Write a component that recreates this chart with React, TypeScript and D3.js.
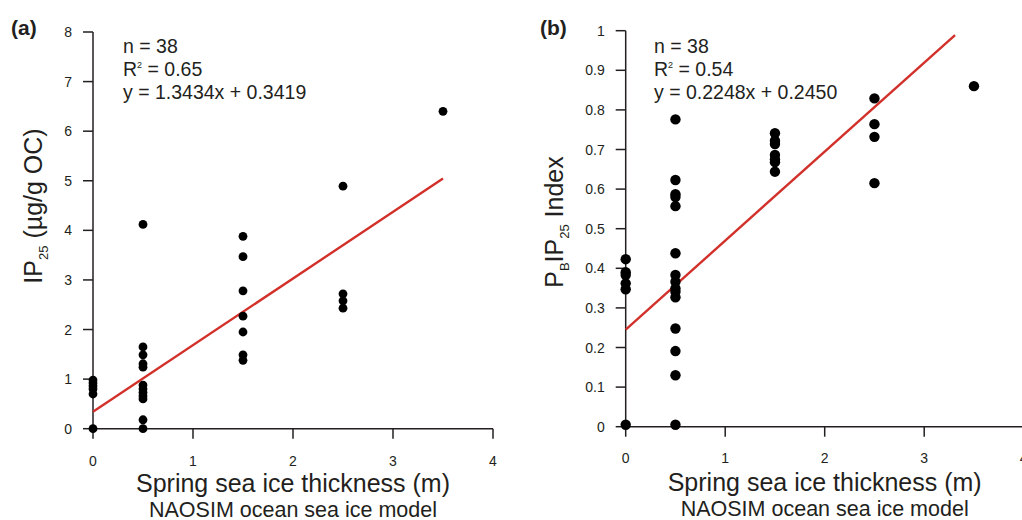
import React from "react";
import * as d3 from "d3";

// ---- Data ----
const xTicks = [0, 1, 2, 3, 4];
const yTicksA = [0, 1, 2, 3, 4, 5, 6, 7, 8];
const yTicksB = [0, 0.1, 0.2, 0.3, 0.4, 0.5, 0.6, 0.7, 0.8, 0.9, 1];

const thicknessA = [
  0, 0, 0, 0, 0, 0,
  0.5, 0.5, 0.5, 0.5, 0.5, 0.5, 0.5, 0.5, 0.5, 0.5, 0.5, 0.5,
  1.5, 1.5, 1.5, 1.5, 1.5, 1.5, 1.5,
  2.5, 2.5, 2.5, 2.5,
  3.5,
];
const ip25 = [
  0.98, 0.92, 0.86, 0.8, 0.7, 0,
  4.12, 1.65, 1.49, 1.31, 1.24, 0.88, 0.8, 0.73, 0.66, 0.6, 0.18, 0,
  3.88, 3.47, 2.78, 2.27, 1.95, 1.49, 1.38,
  4.89, 2.72, 2.58, 2.43,
  6.4,
];

const thicknessB = [
  0, 0, 0, 0, 0, 0,
  0.5, 0.5, 0.5, 0.5, 0.5, 0.5, 0.5, 0.5, 0.5, 0.5, 0.5, 0.5, 0.5, 0.5, 0.5,
  1.5, 1.5, 1.5, 1.5, 1.5, 1.5, 1.5,
  2.5, 2.5, 2.5, 2.5,
  3.5,
];
const pbip25 = [
  0.423, 0.39, 0.383, 0.362, 0.347, 0.005,
  0.776, 0.623, 0.587, 0.58, 0.557, 0.438, 0.383, 0.366, 0.349, 0.341, 0.327, 0.248, 0.191, 0.13, 0.005,
  0.741, 0.722, 0.714, 0.686, 0.675, 0.668, 0.644,
  0.829, 0.764, 0.732, 0.615,
  0.86,
];

const fitA = { slope: 1.3434, intercept: 0.3419, xEnd: 3.5 };
const fitB = { slope: 0.2248, intercept: 0.245, xEnd: 3.31 };

const statsA = ["n = 38", "0.65", "y = 1.3434x + 0.3419"];
const statsB = ["n = 38", "0.54", "y = 0.2248x + 0.2450"];

const FONT = "'Liberation Sans', Arial, Helvetica, sans-serif";
const INK = "#231f20";
const RED = "#d2302a";

type PanelProps = {
  letter: string;
  xs: number[];
  ys: number[];
  yTicks: number[];
  yMax: number;
  xRange: [number, number];
  yRange: [number, number];
  fit: { slope: number; intercept: number; xEnd: number };
  stats: string[];
  r: number;
  yLabel: React.ReactNode;
  yLabelX: number;
  yLabelY: number;
  letterX: number;
  statsX: number;
  tickBase: number;
  titleBase: number;
  subBase: number;
};

function Panel(p: PanelProps) {
  const x = d3.scaleLinear().domain([0, 4]).range(p.xRange);
  const y = d3.scaleLinear().domain([0, p.yMax]).range(p.yRange);
  const x0 = x(0);
  const y0 = y(0);
  const line = d3.line<number>().x((d) => x(d)).y((d) => y(p.fit.slope * d + p.fit.intercept));
  const cx = (p.xRange[0] + p.xRange[1]) / 2;
  return (
    <g fontFamily={FONT} fill={INK}>
      <text x={p.letterX} y={35} fontSize={21} fontWeight="bold">{p.letter}</text>
      {/* axes */}
      <line x1={x0} x2={x0} y1={y(p.yMax)} y2={y0} stroke={INK} strokeWidth={1.5} />
      <line x1={x0} x2={x(4)} y1={y0} y2={y0} stroke={INK} strokeWidth={1.5} />
      {p.yTicks.map((t) => (
        <g key={"y" + t}>
          <line x1={x0 - 10} x2={x0} y1={y(t)} y2={y(t)} stroke={INK} strokeWidth={1.5} />
          <text x={x0 - 21} y={y(t)} dy="0.36em" fontSize={14} textAnchor="end">{String(t)}</text>
        </g>
      ))}
      {xTicks.map((t) => (
        <g key={"x" + t}>
          <line x1={x(t)} x2={x(t)} y1={y0} y2={y0 + 10} stroke={INK} strokeWidth={1.5} />
          <text x={x(t)} y={p.tickBase} fontSize={14} textAnchor="middle">{String(t)}</text>
        </g>
      ))}
      {/* regression line */}
      <path d={line([0, p.fit.xEnd]) || ""} stroke={RED} strokeWidth={2.4} fill="none" />
      {/* points */}
      {p.xs.map((v, i) => (
        <circle key={i} cx={x(v)} cy={y(p.ys[i])} r={p.r} fill="#000" />
      ))}
      {/* stats */}
      <text x={p.statsX} y={53} fontSize={19.5}>{p.stats[0]}</text>
      <text x={p.statsX} y={76} fontSize={19.5}>
        R<tspan fontSize={9} dy={-8}>2</tspan><tspan dy={8}>{" = " + p.stats[1]}</tspan>
      </text>
      <text x={p.statsX} y={98.5} fontSize={19.5}>{p.stats[2]}</text>
      {/* axis titles */}
      <text x={cx} y={p.titleBase} fontSize={25} textAnchor="middle">Spring sea ice thickness (m)</text>
      <text x={cx} y={p.subBase} fontSize={21.5} textAnchor="middle">NAOSIM ocean sea ice model</text>
      <text transform={`translate(${p.yLabelX},${p.yLabelY}) rotate(-90)`} fontSize={25} textAnchor="middle">
        {p.yLabel}
      </text>
    </g>
  );
}

export default function App() {
  return (
    <svg width={1022} height={520} style={{ position: "absolute", left: 0, top: 0, background: "#fff" }}>
      <rect width={1022} height={520} fill="#fff" />
      <Panel
        letter="(a)"
        xs={thicknessA}
        ys={ip25}
        yTicks={yTicksA}
        yMax={8}
        xRange={[93, 493]}
        yRange={[428.7, 32]}
        fit={fitA}
        stats={statsA}
        r={4.4}
        yLabel={
          <>
            IP<tspan fontSize={13} dy={6}>25</tspan>
            <tspan dy={-6}> (µg/g OC)</tspan>
          </>
        }
        yLabelX={42}
        yLabelY={206}
        letterX={11}
        statsX={123}
        tickBase={466}
        titleBase={491.5}
        subBase={516.5}
      />
      <Panel
        letter="(b)"
        xs={thicknessB}
        ys={pbip25}
        yTicks={yTicksB}
        yMax={1}
        xRange={[625.7, 1023.7]}
        yRange={[426.7, 30.7]}
        fit={fitB}
        stats={statsB}
        r={5.2}
        yLabel={
          <>
            P<tspan fontSize={13} dy={6}>B</tspan>
            <tspan dy={-6}>IP</tspan>
            <tspan fontSize={13} dy={6}>25</tspan>
            <tspan dy={-6}> Index</tspan>
          </>
        }
        yLabelX={563}
        yLabelY={222}
        letterX={540}
        statsX={654}
        tickBase={463}
        titleBase={490.5}
        subBase={515.5}
      />
    </svg>
  );
}
